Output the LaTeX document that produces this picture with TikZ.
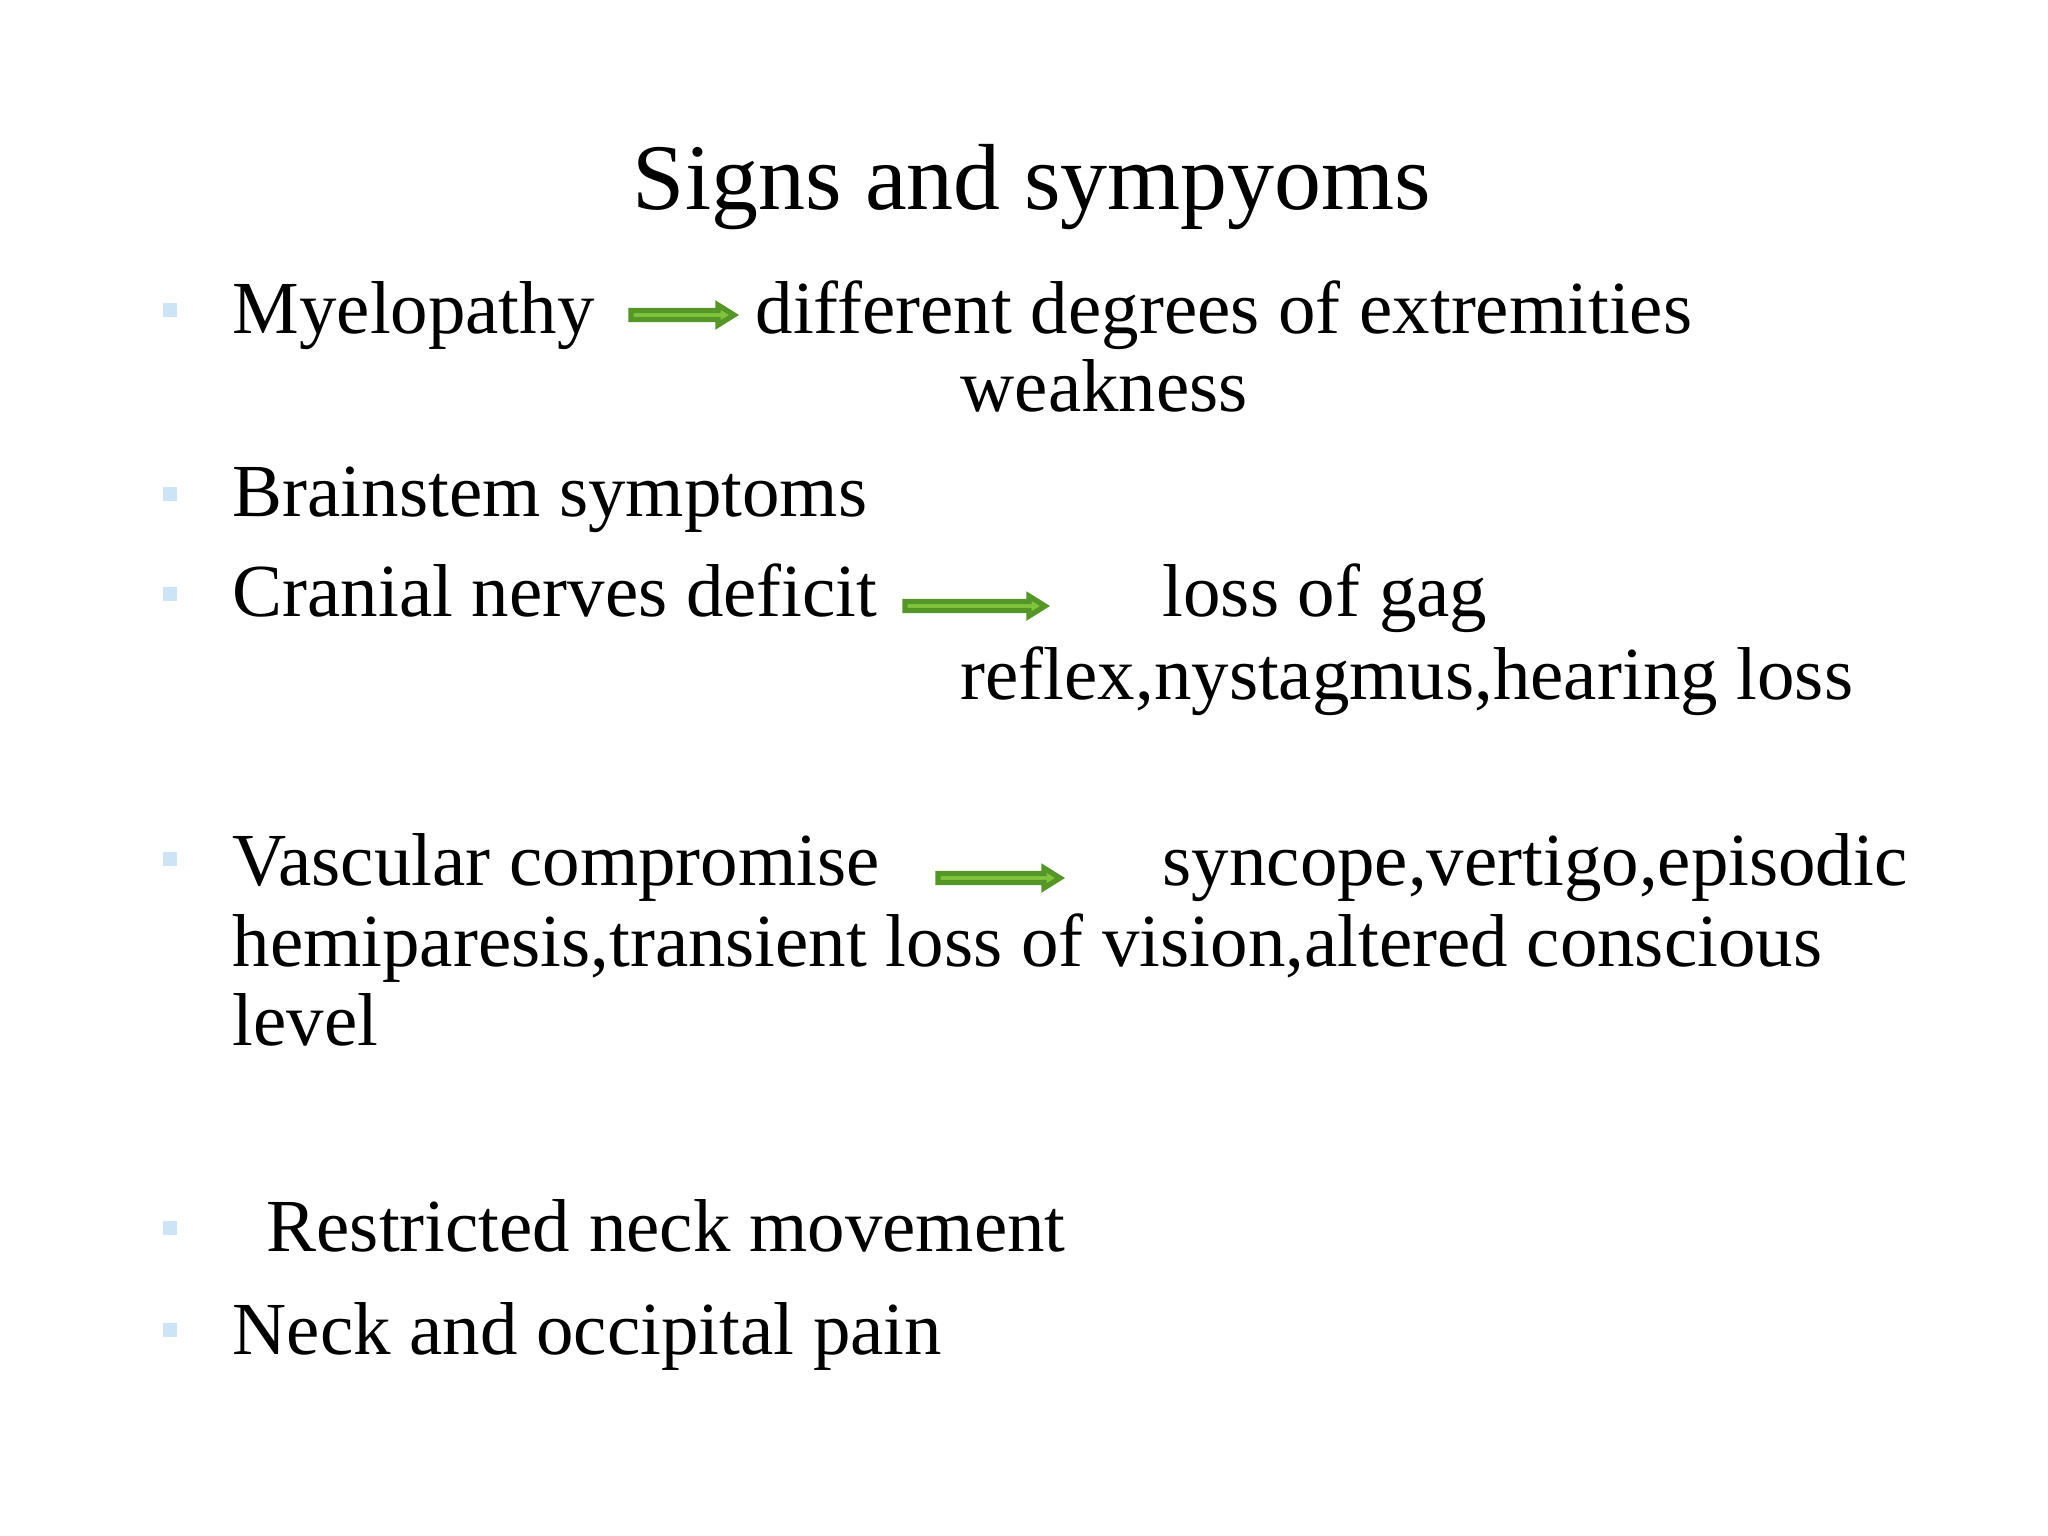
\documentclass[tikz,border=0pt]{standalone}
\usepackage{fontspec}
\setmainfont{Liberation Serif}
\definecolor{bul}{RGB}{205,228,247}
\definecolor{gfill}{RGB}{130,195,60}
\definecolor{gline}{RGB}{85,150,40}
\newcommand{\garrow}[3]{%
  \filldraw[fill=gfill,draw=gline,line width=1.5] (#1,#3-4.5)--(#2-16,#3-4.5)--(#2-16,#3-10)--(#2,#3)--(#2-16,#3+10)--(#2-16,#3+4.5)--(#1,#3+4.5)--cycle;}
\tikzset{txt/.style={anchor=base west,inner sep=0,font=\fontsize{21.3}{24}\selectfont},
bullet/.style={fill=bul,minimum size=4.2pt,inner sep=0}}
\begin{document}
\begin{tikzpicture}[x=0.01cm,y=-0.01cm]
\useasboundingbox[fill=white] (0,0) rectangle (2048,1536);
\node[anchor=base,inner sep=0,font=\fontsize{26.7}{32}\selectfont] (title) at (1032,209) {Signs and sympyoms};
\foreach \y [count=\i] in {310,494,594,859,1228,1330} \node[bullet] (b\i) at (170,\y) {};
\node[txt] (t1) at (232,333) {Myelopathy};
\node[txt] (t1a) at (755,333) {different degrees of extremities};
\node[txt] (t1b) at (960,411) {weakness};
\node[txt] (t2) at (232,516) {Brainstem symptoms};
\node[txt] (t3) at (232,616) {Cranial nerves deficit};
\node[txt] (t3a) at (1162,616) {loss of gag};
\node[txt] (t3b) at (960,699) {reflex,nystagmus,hearing loss};
\node[txt] (t4) at (232,885) {Vascular compromise};
\node[txt] (t4a) at (1162,885) {syncope,vertigo,episodic};
\node[txt] (t4b) at (232,966) {hemiparesis,transient loss of vision,altered conscious};
\node[txt] (t4c) at (232,1045) {level};
\node[txt] (t5) at (266,1251) {Restricted neck movement};
\node[txt] (t6) at (232,1354) {Neck and occipital pain};
\garrow{631}{734}{315}
\garrow{905}{1045}{606}
\garrow{938}{1060}{878}
\end{tikzpicture}
\end{document}
